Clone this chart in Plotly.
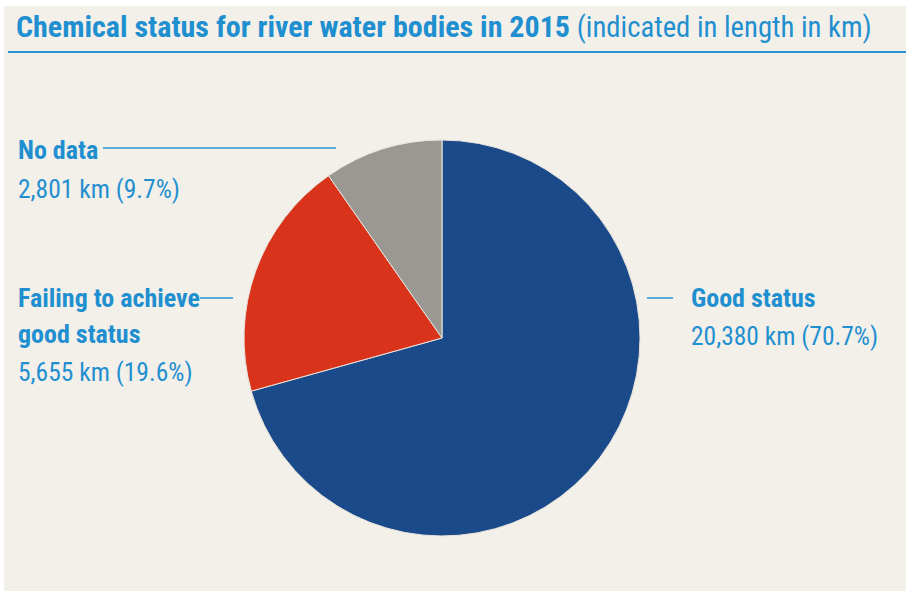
import plotly.graph_objects as go

# Chemical status of river water bodies, 2015 (length in km)
categories = ["Good status", "Failing to achieve good status", "No data"]
label_lines = [["Good status"], ["Failing to achieve", "good status"], ["No data"]]
lengths_km = [20380, 5655, 2801]
colors = ["#1b4a8b", "#d9331b", "#9a9893"]

W, H = 906, 591
BG = "#f3f0ea"
TEXT_BLUE = "#1f8fd0"
FONT = "Roboto Condensed, Roboto, sans-serif"

total = sum(lengths_km)
shares = [round(v / total * 100, 1) for v in lengths_km]


def px(x):
    return x / W


def py(y):
    return 1 - y / H


# pie placement: centre (442, 338), radius 198 px
cx, cy, r = 442, 338, 198

fig = go.Figure(
    go.Pie(
        labels=categories,
        values=lengths_km,
        marker=dict(colors=colors, line=dict(color="#e8e4dc", width=1)),
        sort=False,
        direction="clockwise",
        rotation=0,
        textinfo="none",
        hoverinfo="label+value+percent",
        showlegend=False,
        domain=dict(x=[px(cx - r), px(cx + r)], y=[py(cy + r), py(cy - r)]),
    )
)

shapes = [
    # beige panel
    dict(type="rect", xref="paper", yref="paper", x0=px(4), x1=1, y0=0, y1=py(6),
         fillcolor=BG, line=dict(width=0), layer="below"),
    # rule under the title
    dict(type="line", xref="paper", yref="paper", x0=px(8), x1=1, y0=py(52), y1=py(52),
         line=dict(color="#2596d4", width=2)),
]

annotations = [
    dict(x=px(14), y=py(26), xref="paper", yref="paper", xanchor="left", yanchor="middle",
         showarrow=False,
         text="<b>Chemical status for river water bodies in 2015</b>"
              " <span style='font-size:28.7px'>(indicated in length in km)</span>",
         font=dict(family=FONT, size=30, color=TEXT_BLUE)),
]

# label blocks: left x, line centres, value centre, leader line (x0, x1, y)
label_layout = {
    "Good status": dict(x=689, ys=[298], vy=336, line=(647, 673, 298)),
    "Failing to achieve good status": dict(x=16, ys=[298, 334], vy=372, line=(200, 233, 298)),
    "No data": dict(x=16, ys=[150], vy=189, line=(103, 336, 148)),
}

for cat, lines, v, s in zip(categories, label_lines, lengths_km, shares):
    lay = label_layout[cat]
    for txt, yy in zip(lines, lay["ys"]):
        annotations.append(dict(
            x=px(lay["x"]), y=py(yy), xref="paper", yref="paper",
            xanchor="left", yanchor="middle", showarrow=False,
            text=f"<b>{txt}</b>", font=dict(family=FONT, size=26, color=TEXT_BLUE)))
    annotations.append(dict(
        x=px(lay["x"]), y=py(lay["vy"]), xref="paper", yref="paper",
        xanchor="left", yanchor="middle", showarrow=False,
        text=f"{v:,} km ({s}%)", font=dict(family=FONT, size=25.5, color=TEXT_BLUE)))
    x0, x1, ly = lay["line"]
    shapes.append(dict(type="line", xref="paper", yref="paper",
                       x0=px(x0), x1=px(x1), y0=py(ly), y1=py(ly),
                       line=dict(color="#2596d4", width=1.5)))

fig.update_layout(
    width=W, height=H,
    margin=dict(l=0, r=0, t=0, b=0),
    paper_bgcolor="white",
    plot_bgcolor="white",
    shapes=shapes,
    annotations=annotations,
)

fig.write_html("out.html", config={"displayModeBar": False})
